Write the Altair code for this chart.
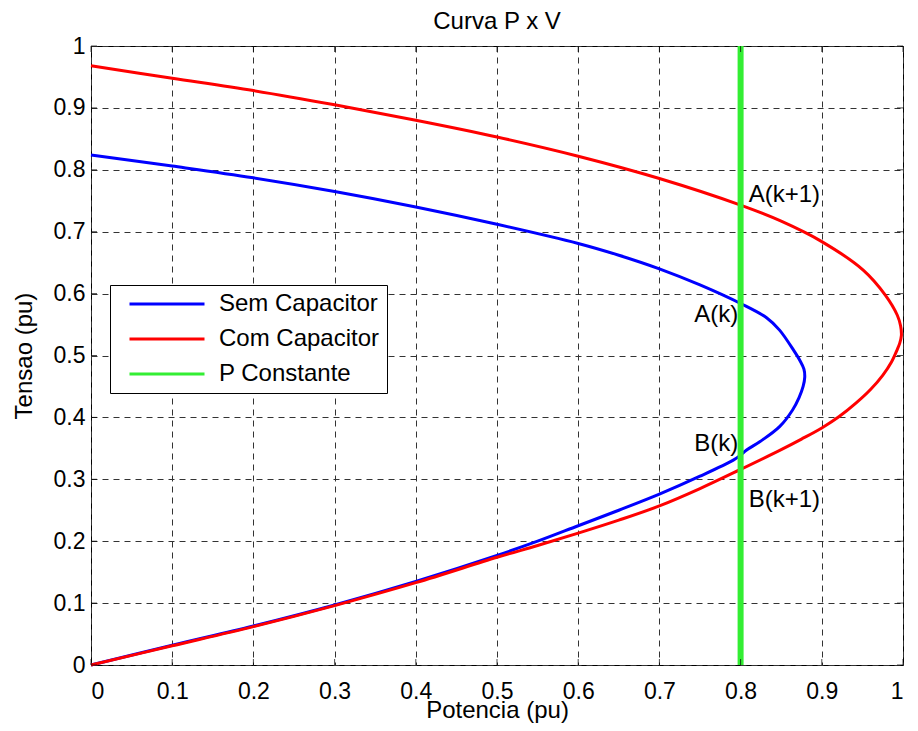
import altair as alt
import pandas as pd

# ---- data ----
series_names = ["Sem Capacitor", "Com Capacitor", "P Constante"]
series_colors = ["#0000ff", "#ff0000", "#33ee33"]

P_sem = [0.000, 0.100, 0.200, 0.300, 0.400, 0.500, 0.600, 0.650, 0.700, 0.750, 0.800,
         0.832, 0.848, 0.866, 0.873, 0.878, 0.879, 0.877, 0.872, 0.864, 0.848, 0.824,
         0.807, 0.800, 0.791, 0.750, 0.700, 0.650, 0.600, 0.550, 0.500, 0.400, 0.300,
         0.200, 0.100, 0.000]
V_sem = [0.824, 0.806, 0.787, 0.765, 0.740, 0.712, 0.681, 0.662, 0.640, 0.614, 0.584,
         0.561, 0.541, 0.507, 0.492, 0.478, 0.465, 0.450, 0.432, 0.412, 0.385, 0.361,
         0.347, 0.339, 0.331, 0.305, 0.276, 0.250, 0.225, 0.200, 0.177, 0.135, 0.097,
         0.063, 0.032, 0.000]

P_com = [0.000, 0.100, 0.200, 0.300, 0.400, 0.500, 0.600, 0.700, 0.800, 0.850, 0.900,
         0.951, 0.978, 0.993, 0.997, 0.998, 0.996, 0.993, 0.986, 0.975, 0.960, 0.942,
         0.921, 0.900, 0.875, 0.850, 0.800, 0.750, 0.700, 0.650, 0.600, 0.550, 0.500,
         0.400, 0.300, 0.200, 0.100, 0.000]
V_com = [0.968, 0.948, 0.928, 0.905, 0.880, 0.853, 0.822, 0.786, 0.743, 0.717, 0.684,
         0.638, 0.598, 0.565, 0.548, 0.532, 0.520, 0.510, 0.490, 0.468, 0.445, 0.423,
         0.401, 0.383, 0.365, 0.348, 0.316, 0.285, 0.257, 0.234, 0.213, 0.193, 0.174,
         0.133, 0.096, 0.062, 0.031, 0.000]

P_const = [0.8, 0.8]
V_const = [0.0, 1.0]

tick_values = [0.0, 0.1, 0.2, 0.3, 0.4, 0.5, 0.6, 0.7, 0.8, 0.9, 1.0]

labels_left_text = ["A(k+1)", "B(k+1)"]
labels_left_P = [0.810, 0.810]
labels_left_V = [0.759, 0.267]
labels_right_text = ["A(k)", "B(k)"]
labels_right_P = [0.797, 0.797]
labels_right_V = [0.565, 0.357]

FONT = "Liberation Sans"
FS = 24        # titles, legend, annotations
FS_TICK = 23   # tick labels
W, H = 812, 619

def series_frame(name, P, V):
    return pd.DataFrame({"series": name, "P": P, "V": V, "i": list(range(len(P)))})

curves = pd.concat([series_frame(series_names[0], P_sem, V_sem),
                    series_frame(series_names[1], P_com, V_com)], ignore_index=True)
const = series_frame(series_names[2], P_const, V_const)
ticks = pd.DataFrame({"t": tick_values})
lab_l = pd.DataFrame({"txt": labels_left_text, "P": labels_left_P, "V": labels_left_V})
lab_r = pd.DataFrame({"txt": labels_right_text, "P": labels_right_P, "V": labels_right_V})

xscale = alt.Scale(domain=[0, 1], nice=False, zero=False)
yscale = alt.Scale(domain=[0, 1], nice=False, zero=False)

color = alt.Color(
    "series:N",
    scale=alt.Scale(domain=series_names, range=series_colors),
    legend=alt.Legend(
        title=None, orient="none", legendX=19, legendY=239,
        symbolType="M0.067,0H10.067", symbolSize=225, symbolStrokeWidth=3,
        labelFont=FONT, labelFontSize=FS, labelColor="black", labelOffset=78,
        labelLimit=400,
        padding=7, rowPadding=11, strokeColor="black", fillColor="white",
        cornerRadius=0,
    ),
)

xaxis = alt.Axis(values=tick_values, format="~g", title="Potencia (pu)",
                 labelPadding=15, titlePadding=-5)
yaxis = alt.Axis(values=tick_values, format="~g", title="Tensao (pu)",
                 labelPadding=6, titlePadding=17)

base_x = alt.X("P:Q", scale=xscale, axis=xaxis)
base_y = alt.Y("V:Q", scale=yscale, axis=yaxis)

lines = alt.Chart(curves).mark_line(strokeWidth=3, interpolate="catmull-rom").encode(
    x=base_x, y=base_y, color=color, order="i:Q", detail="series:N")

green = alt.Chart(const).mark_line(strokeWidth=6).encode(
    x=alt.X("P:Q", scale=xscale), y=alt.Y("V:Q", scale=yscale),
    color=color, order="i:Q")

txt_l = alt.Chart(lab_l).mark_text(align="left", baseline="middle", font=FONT,
                                   fontSize=FS, color="black").encode(
    x=alt.X("P:Q", scale=xscale), y=alt.Y("V:Q", scale=yscale), text="txt:N")
txt_r = alt.Chart(lab_r).mark_text(align="right", baseline="middle", font=FONT,
                                   fontSize=FS, color="black").encode(
    x=alt.X("P:Q", scale=xscale), y=alt.Y("V:Q", scale=yscale), text="txt:N")

tick_b = alt.Chart(ticks).mark_tick(orient="vertical", size=6, thickness=1, color="black").encode(
    x=alt.X("t:Q", scale=xscale), y=alt.value(H - 3))
tick_t = alt.Chart(ticks).mark_tick(orient="vertical", size=6, thickness=1, color="black").encode(
    x=alt.X("t:Q", scale=xscale), y=alt.value(3))
tick_l = alt.Chart(ticks).mark_tick(orient="horizontal", size=6, thickness=1, color="black").encode(
    y=alt.Y("t:Q", scale=yscale), x=alt.value(3))
tick_r = alt.Chart(ticks).mark_tick(orient="horizontal", size=6, thickness=1, color="black").encode(
    y=alt.Y("t:Q", scale=yscale), x=alt.value(W - 3))

chart = alt.layer(lines, green, txt_l, txt_r, tick_b, tick_t, tick_l, tick_r).properties(
    width=W, height=H,
    title=alt.TitleParams("Curva P x V", font=FONT, fontSize=FS, fontWeight="normal",
                          color="black", offset=0),
    autosize=alt.AutoSizeParams(type="none"),
    padding={"left": 83, "top": 38, "right": 7, "bottom": 58},
    background="white",
).configure_view(stroke="black", strokeWidth=1).configure_axis(
    grid=True, gridColor="#333333", gridDash=[6, 5], gridWidth=1, gridOpacity=1,
    domain=False, ticks=False,
    labelFont=FONT, labelFontSize=FS_TICK, labelColor="black",
    titleFont=FONT, titleFontSize=FS, titleFontWeight="normal", titleColor="black",
)

chart.save("out.html", embed_options={"renderer": "svg", "actions": False})
